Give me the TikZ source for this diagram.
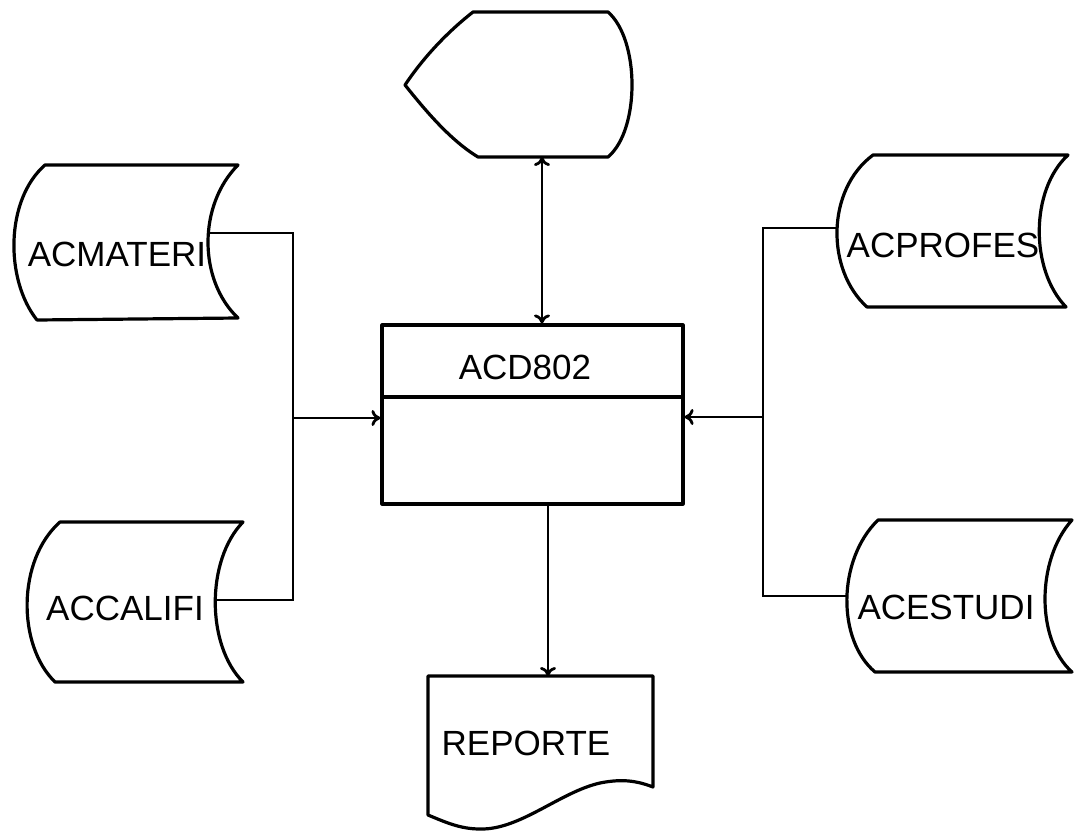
\documentclass[tikz,border=0pt]{standalone}
\usepackage{fontspec}
\setmainfont{Liberation Sans}
\usetikzlibrary{arrows.meta}
\begin{document}
\begin{tikzpicture}[x=1pt,y=-1pt,
  shp/.style={line width=3.2pt, line join=round},
  conn/.style={line width=2.8pt},
  arr/.style={conn, -{To[length=9pt,width=16pt]}},
  dbl/.style={conn, {To[length=9pt,width=16pt]}-{To[length=9pt,width=16pt]}},
  lbl/.style={font=\fontsize{35}{40}\selectfont, inner sep=0pt}]
\useasboundingbox (0,0) rectangle (1075,832);
% display (top)
\draw[shp] (473,12) -- (608,12) .. controls (640,40) and (640,130) .. (608,157)
  -- (478,157) .. controls (450,140) and (425,110) .. (405,85)
  .. controls (425,55) and (450,30) .. (473,12) -- cycle;
\coordinate (disp) at (542,157);
% process box
\node[shp, draw, minimum width=301pt, minimum height=179pt, inner sep=0pt] (acd) at (532.5,414.5) {};
\draw[shp] (382,397) -- (683,397);
\node[lbl] (acdt) at (525,367) {ACD802};
% ACMATERI
\draw[shp] (45,165) -- (238,165) .. controls (198,205) and (198,280) .. (238,318)
  -- (37,320) .. controls (5,280) and (5,200) .. (45,165) -- cycle;
\node[lbl] (mat) at (117,254) {ACMATERI};
\coordinate (matR) at (209,233);
% ACCALIFI
\draw[shp] (60,522) -- (243,522) .. controls (206,560) and (206,645) .. (243,682)
  -- (55,682) .. controls (17,645) and (17,560) .. (60,522) -- cycle;
\node[lbl] (cal) at (125,608) {ACCALIFI};
\coordinate (calR) at (215,600);
% ACPROFES
\draw[shp] (873,155) -- (1068,155) .. controls (1030,190) and (1030,270) .. (1066,307)
  -- (867,307) .. controls (826,270) and (826,190) .. (873,155) -- cycle;
\node[lbl] (pro) at (943,245) {ACPROFES};
\coordinate (proL) at (838,228);
% ACESTUDI
\draw[shp] (878,520) -- (1072,520) .. controls (1036,560) and (1036,640) .. (1072,672)
  -- (875,672) .. controls (837,640) and (837,560) .. (878,520) -- cycle;
\node[lbl] (est) at (946,607) {ACESTUDI};
\coordinate (estL) at (847,596);
% REPORTE document
\draw[shp] (428,676) -- (653,676) -- (653,787)
  .. controls (635,780) and (620,779) .. (600,783)
  .. controls (560,792) and (520,830) .. (480,829)
  .. controls (460,829) and (445,822) .. (428,815) -- cycle;
\node[lbl] (rep) at (526,743) {REPORTE};
\coordinate (repT) at (548,676);
% connectors
\coordinate (jl) at (293,418);
\coordinate (jr) at (763,417);
\draw[conn] (matR) -- (jl |- matR) -- (jl |- calR) -- (calR);
\draw[arr] (jl) -- (jl -| acd.west);
\draw[conn] (proL) -- (jr |- proL) -- (jr |- estL) -- (estL);
\draw[arr] (jr) -- (jr -| acd.east);
\draw[dbl] (disp) -- (disp |- acd.north);
\draw[arr] (repT |- acd.south) -- (repT);
\end{tikzpicture}
\end{document}
